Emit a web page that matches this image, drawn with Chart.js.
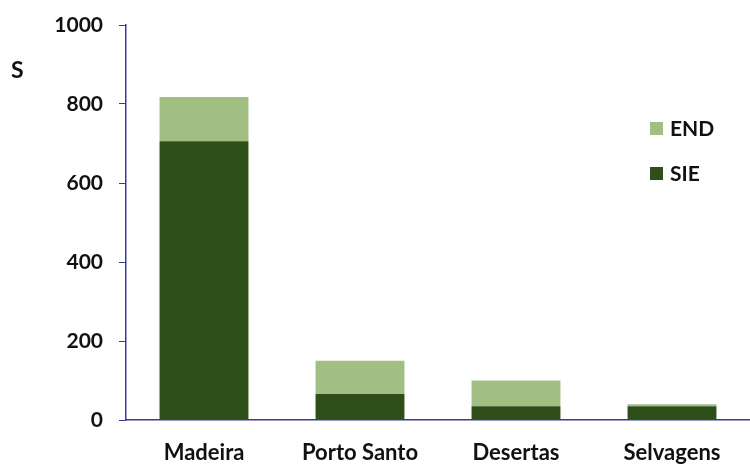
<!DOCTYPE html>
<html>
<head>
<meta charset="utf-8">
<script src="https://cdn.jsdelivr.net/npm/chart.js@4/dist/chart.umd.min.js"></script>
<style>
  html, body { margin: 0; padding: 0; background: #fff; }
  #wrap { width: 750px; height: 464px; position: relative; }
</style>
</head>
<body>
<div id="wrap"><canvas id="chart"></canvas></div>
<script>
// data
const islands = ["Madeira", "Porto Santo", "Desertas", "Selvagens"];
const sieValues = [706, 66, 35, 35];
const endValues = [112, 84, 65, 5];
const yTicks = [0, 200, 400, 600, 800, 1000];

const FONT = "Lato, 'Open Sans', sans-serif";
const AXIS_BLUE = "#3b3b9a";
const END_GREEN = "#a2bf83";
const SIE_GREEN = "#2e4f1a";

// "S" label and legend drawn inside the canvas
const extras = {
    id: "extras",
    afterDraw(chart) {
        const c = chart.ctx;
        c.save();
        c.fillStyle = "#111";
        c.font = "bold 23px " + FONT;
        c.textBaseline = "middle";
        c.fillText("S", 11, 71);

        const items = [["END", END_GREEN, 128], ["SIE", SIE_GREEN, 173]];
        c.font = "bold 21px " + FONT;
        items.forEach(([label, color, y]) => {
            c.fillStyle = color;
            c.fillRect(650, y - 6, 13, 13);
            c.fillStyle = "#111";
            c.fillText(label, 670, y + 1);
        });
        c.restore();
    }
};

const ctx = document.getElementById("chart").getContext("2d");
new Chart(ctx, {
    type: "bar",
    data: {
        labels: islands,
        datasets: [
            {
                label: "SIE",
                data: sieValues,
                backgroundColor: SIE_GREEN,
                barPercentage: 0.57,
                categoryPercentage: 1,
            },
            {
                label: "END",
                data: endValues,
                backgroundColor: END_GREEN,
                barPercentage: 0.57,
                categoryPercentage: 1,
            },
        ],
    },
    options: {
        responsive: true,
        maintainAspectRatio: false,
        animation: false,
        layout: { padding: 0 },
        plugins: {
            legend: { display: false },
            tooltip: { enabled: false },
        },
        scales: {
            x: {
                stacked: true,
                grid: { display: false, drawTicks: false },
                border: { color: AXIS_BLUE, width: 1.5 },
                afterFit(scale) {
                    scale.height = 44;
                },
                ticks: {
                    color: "#111",
                    font: { family: FONT, size: 22, weight: "bold" },
                    padding: 20,
                    maxRotation: 0,
                },
            },
            y: {
                stacked: true,
                min: 0,
                max: 1000,
                afterBuildTicks(scale) {
                    scale.ticks = yTicks.map(v => ({ value: v }));
                },
                afterFit(scale) {
                    scale.width = 126;
                    scale.paddingTop = 25;
                },
                grid: {
                    drawOnChartArea: false,
                    color: AXIS_BLUE,
                    tickLength: 7,
                },
                border: { color: AXIS_BLUE, width: 1.5 },
                ticks: {
                    color: "#111",
                    font: { family: FONT, size: 21, weight: "bold" },
                    padding: 16,
                    callback: v => String(v),
                },
            },
        },
    },
    plugins: [extras],
});
</script>
</body>
</html>
